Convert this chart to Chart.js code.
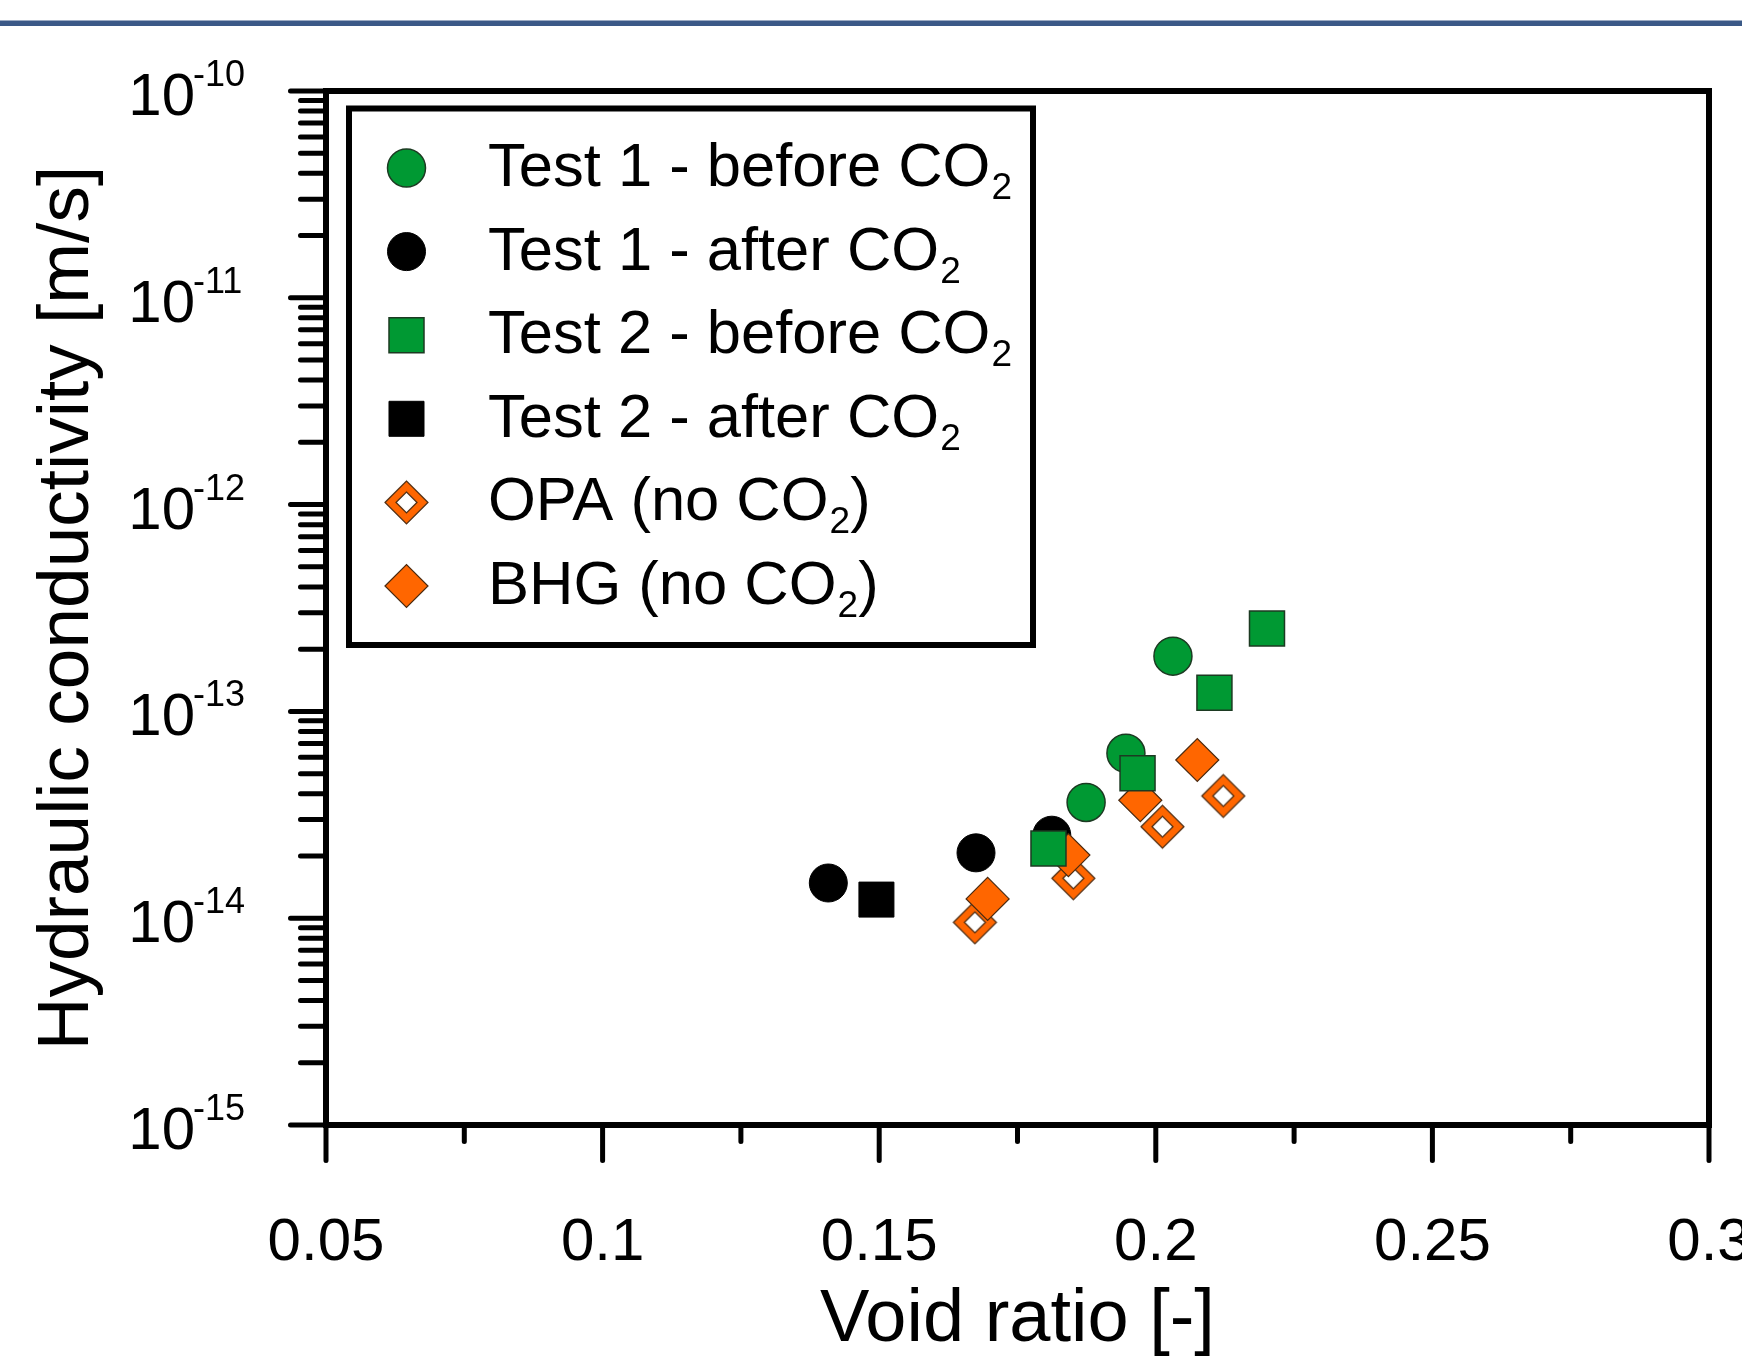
<!DOCTYPE html>
<html>
<head>
<meta charset="utf-8">
<title>Hydraulic conductivity vs void ratio</title>
<script src="https://cdn.jsdelivr.net/npm/chart.js"></script>
<style>
  body { margin: 0; background: #fff; }
  #wrap { position: relative; width: 1742px; height: 1358px; }
</style>
</head>
<body>
<div id="wrap"><canvas id="kchart" width="1742" height="1358"></canvas></div>
<script>
// values: void ratio [-] vs hydraulic conductivity [m/s]
const test1BeforeE = [0.1874, 0.1946, 0.2031];
const test1BeforeK = [3.63e-14, 6.27e-14, 1.85e-13];
const test1AfterE = [0.1408, 0.1675, 0.1812];
const test1AfterK = [1.48e-14, 2.07e-14, 2.52e-14];
const test2BeforeE = [0.1806, 0.1967, 0.2106, 0.2201];
const test2BeforeK = [2.17e-14, 5.02e-14, 1.23e-13, 2.52e-13];
const test2AfterE = [0.1495];
const test2AfterK = [1.23e-14];
const opaE = [0.1673, 0.1851, 0.2012, 0.2122];
const opaK = [9.55e-15, 1.56e-14, 2.77e-14, 3.90e-14];
const bhgE = [0.1696, 0.1842, 0.1972, 0.2075];
const bhgK = [1.24e-14, 2.02e-14, 3.72e-14, 5.82e-14];

// axis ticks
const xTicks = [0.05, 0.1, 0.15, 0.2, 0.25, 0.3];
const xTickLabels = ["0.05", "0.1", "0.15", "0.2", "0.25", "0.3"];
const xMinorTicks = [0.075, 0.125, 0.175, 0.225, 0.275];
const yExponents = [-15, -14, -13, -12, -11, -10];

// legend text, split so CO2 gets a real subscript
const legendLabels = [
    ["Test 1 - before CO", "2", ""],
    ["Test 1 - after CO", "2", ""],
    ["Test 2 - before CO", "2", ""],
    ["Test 2 - after CO", "2", ""],
    ["OPA (no CO", "2", ")"],
    ["BHG (no CO", "2", ")"],
];

const FONT = '"Liberation Sans", Arial, sans-serif';
const GREEN = "#009933";
const ORANGE = "#ff6600";

function pts(xs, ys) {
    return xs.map((x, i) => ({ x: x, y: ys[i] }));
}

// open diamond: orange ring with white centre
function openDiamond(r, inner) {
    const c = document.createElement("canvas");
    const s = Math.ceil(2 * r + 4);
    c.width = s;
    c.height = s;
    const g = c.getContext("2d");
    const m = s / 2;
    const dia = (rr) => {
        g.beginPath();
        g.moveTo(m - rr, m);
        g.lineTo(m, m - rr);
        g.lineTo(m + rr, m);
        g.lineTo(m, m + rr);
        g.closePath();
    };
    g.lineWidth = 1.2;
    g.strokeStyle = "#4a2a10";
    dia(r);
    g.fillStyle = ORANGE;
    g.fill();
    g.stroke();
    dia(inner);
    g.fillStyle = "#fff";
    g.fill();
    g.stroke();
    return c;
}
const opaMarker = openDiamond(21.5, 10.5);

function drawMarker(ctx, ds, x, y) {
    const r = ds.pointRadius;
    if (ds.pointStyle === opaMarker) {
        ctx.drawImage(opaMarker, x - opaMarker.width / 2, y - opaMarker.height / 2);
        return;
    }
    ctx.beginPath();
    if (ds.pointStyle === "circle") {
        ctx.arc(x, y, r, 0, Math.PI * 2);
    } else if (ds.pointStyle === "rect") {
        const h = Math.SQRT1_2 * r;
        ctx.rect(x - h, y - h, 2 * h, 2 * h);
    } else {
        ctx.moveTo(x - r, y);
        ctx.lineTo(x, y - r);
        ctx.lineTo(x + r, y);
        ctx.lineTo(x, y + r);
        ctx.closePath();
    }
    ctx.fillStyle = ds.pointBackgroundColor;
    ctx.fill();
    ctx.lineWidth = ds.pointBorderWidth;
    ctx.strokeStyle = ds.pointBorderColor;
    ctx.stroke();
}

const axesPlugin = {
    id: "paperAxes",
    beforeDatasetsDraw(chart) {
        const ctx = chart.ctx;
        const xs = chart.scales.x;
        const ys = chart.scales.y;
        const a = chart.chartArea;
        ctx.save();

        // header band
        ctx.fillStyle = "#3b5987";
        ctx.fillRect(0, 20.5, chart.width, 5.5);

        // frame
        ctx.strokeStyle = "#000";
        ctx.lineWidth = 6;
        ctx.lineJoin = "miter";
        ctx.strokeRect(a.left, a.top, a.right - a.left, a.bottom - a.top);

        // x ticks
        ctx.lineWidth = 5;
        ctx.lineCap = "round";
        ctx.beginPath();
        xTicks.forEach((v) => {
            const px = xs.getPixelForValue(v);
            ctx.moveTo(px, a.bottom);
            ctx.lineTo(px, a.bottom + 35.5);
        });
        xMinorTicks.forEach((v) => {
            const px = xs.getPixelForValue(v);
            ctx.moveTo(px, a.bottom);
            ctx.lineTo(px, a.bottom + 16.5);
        });
        // y ticks
        yExponents.forEach((e, i) => {
            const py = ys.getPixelForValue(Math.pow(10, e));
            ctx.moveTo(a.left, py);
            ctx.lineTo(a.left - 35.5, py);
            if (i < yExponents.length - 1) {
                for (let k = 2; k <= 9; k++) {
                    const pm = ys.getPixelForValue(k * Math.pow(10, e));
                    ctx.moveTo(a.left, pm);
                    ctx.lineTo(a.left - 25.5, pm);
                }
            }
        });
        ctx.stroke();

        // tick labels
        ctx.fillStyle = "#000";
        ctx.textBaseline = "alphabetic";
        ctx.font = "60px " + FONT;
        ctx.textAlign = "center";
        xTicks.forEach((v, i) => {
            ctx.fillText(xTickLabels[i], xs.getPixelForValue(v), a.bottom + 135);
        });
        yExponents.forEach((e) => {
            const py = ys.getPixelForValue(Math.pow(10, e));
            ctx.font = "60px " + FONT;
            ctx.textAlign = "right";
            ctx.fillText("10", 195, py + 24);
            ctx.font = "36px " + FONT;
            ctx.textAlign = "left";
            ctx.fillText(String(e), 193, py - 5);
        });

        // axis titles
        ctx.font = "74px " + FONT;
        ctx.textAlign = "center";
        ctx.fillText("Void ratio [-]", (a.left + a.right) / 2, 1341);
        ctx.font = "73px " + FONT;
        ctx.translate(88, (a.top + a.bottom) / 2);
        ctx.rotate(-Math.PI / 2);
        ctx.fillText("Hydraulic conductivity [m/s]", 0, 0);
        ctx.restore();
    },
    afterDatasetsDraw(chart) {
        const ctx = chart.ctx;
        ctx.save();
        ctx.fillStyle = "#fff";
        ctx.fillRect(349, 108.5, 684, 536.5);
        ctx.strokeStyle = "#000";
        ctx.lineWidth = 6;
        ctx.strokeRect(349, 108.5, 684, 536.5);

        chart.data.datasets.forEach((ds, i) => {
            const y = 168 + i * 83.6;
            drawMarker(ctx, ds, 406.5, y);
            const parts = legendLabels[i];
            let x = 488;
            ctx.fillStyle = "#000";
            ctx.textAlign = "left";
            ctx.textBaseline = "alphabetic";
            ctx.font = "61.5px " + FONT;
            ctx.fillText(parts[0], x, y + 18);
            x += ctx.measureText(parts[0]).width + 1;
            ctx.font = "37px " + FONT;
            ctx.fillText(parts[1], x, y + 31);
            x += ctx.measureText(parts[1]).width;
            ctx.font = "61.5px " + FONT;
            if (parts[2]) ctx.fillText(parts[2], x, y + 18);
        });
        ctx.restore();
    },
};

new Chart(document.getElementById("kchart"), {
    type: "scatter",
    data: {
        datasets: [
            {
                label: "Test 1 - before CO₂",
                data: pts(test1BeforeE, test1BeforeK),
                pointStyle: "circle",
                pointRadius: 19,
                pointBackgroundColor: GREEN,
                pointBorderColor: "#1c3a22",
                pointBorderWidth: 1.5,
                order: 2,
            },
            {
                label: "Test 1 - after CO₂",
                data: pts(test1AfterE, test1AfterK),
                pointStyle: "circle",
                pointRadius: 19,
                pointBackgroundColor: "#000",
                pointBorderColor: "#000",
                pointBorderWidth: 1,
                order: 4,
            },
            {
                label: "Test 2 - before CO₂",
                data: pts(test2BeforeE, test2BeforeK),
                pointStyle: "rect",
                pointRadius: 24.75,
                pointBackgroundColor: GREEN,
                pointBorderColor: "#1c3a22",
                pointBorderWidth: 1.5,
                order: 0,
            },
            {
                label: "Test 2 - after CO₂",
                data: pts(test2AfterE, test2AfterK),
                pointStyle: "rect",
                pointRadius: 24.75,
                pointBackgroundColor: "#000",
                pointBorderColor: "#000",
                pointBorderWidth: 1,
                order: 1,
            },
            {
                label: "OPA (no CO₂)",
                data: pts(opaE, opaK),
                pointStyle: opaMarker,
                pointRadius: 21.5,
                pointBackgroundColor: ORANGE,
                pointBorderColor: "#4a2a10",
                pointBorderWidth: 1.2,
                order: 5,
            },
            {
                label: "BHG (no CO₂)",
                data: pts(bhgE, bhgK),
                pointStyle: "rectRot",
                pointRadius: 21.5,
                pointBackgroundColor: ORANGE,
                pointBorderColor: "#4a2a10",
                pointBorderWidth: 1.2,
                order: 3,
            },
        ],
    },
    options: {
        responsive: false,
        devicePixelRatio: 1,
        animation: false,
        events: [],
        layout: {
            padding: { left: 326, top: 91, right: 33, bottom: 233 },
        },
        plugins: {
            legend: { display: false },
            tooltip: { enabled: false },
        },
        scales: {
            x: { type: "linear", min: 0.05, max: 0.3, display: false },
            y: { type: "logarithmic", min: 1e-15, max: 1e-10, display: false },
        },
    },
    plugins: [axesPlugin],
});
</script>
</body>
</html>
